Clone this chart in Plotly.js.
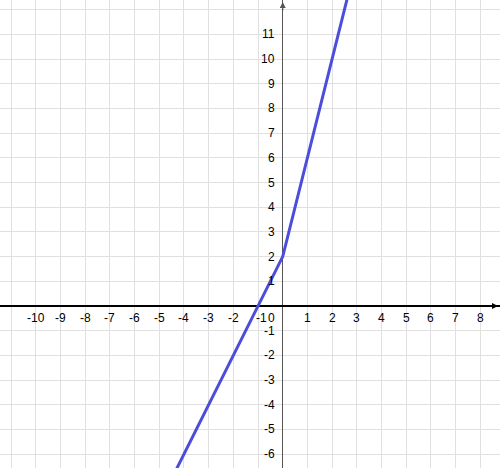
<!DOCTYPE html>
<html>
<head>
<meta charset="utf-8">
<script src="https://cdn.plot.ly/plotly-3.0.1.min.js"></script>
<style>
  html, body { margin: 0; padding: 0; background: #fff; }
  #graph { width: 500px; height: 468px; }
</style>
</head>
<body>
<div id="graph"></div>
<script>
// piecewise line: corner at (0, 2)
var lineX = [-5, 0, 3];
var lineY = [-8, 2, 14];

var xTickVals = [-10, -9, -8, -7, -6, -5, -4, -3, -2, -1, 1, 2, 3, 4, 5, 6, 7, 8];
var yTickVals = [-6, -5, -4, -3, -2, -1, 1, 2, 3, 4, 5, 6, 7, 8, 9, 10, 11];

var xRange = [-11.45, 8.8];
var yRange = [-6.56, 12.39];

var labelFont = { family: 'Liberation Sans, Arial, sans-serif', size: 12, color: '#000' };

var trace1 = {
    x: lineX,
    y: lineY,
    mode: 'lines',
    type: 'scatter',
    line: { color: '#4d4ddb', width: 3 },
    hoverinfo: 'none'
};

var annotationContent = [];
for (var i = 0; i < xTickVals.length; i++) {
    annotationContent.push({
        x: xTickVals[i], y: 0,
        text: String(xTickVals[i]),
        xanchor: 'center', yanchor: 'top',
        yshift: -3,
        xshift: xTickVals[i] == -1 ? 3 : 0,
        showarrow: false,
        font: labelFont
    });
}
for (var j = 0; j < yTickVals.length; j++) {
    annotationContent.push({
        x: 0, y: yTickVals[j],
        text: String(yTickVals[j]),
        xanchor: 'right', yanchor: 'middle',
        xshift: -6,
        showarrow: false,
        font: labelFont
    });
}
// origin label
annotationContent.push({
    x: 0, y: 0, text: '0',
    xanchor: 'right', yanchor: 'top',
    xshift: -6, yshift: -3,
    showarrow: false, font: labelFont
});
// axis arrows
annotationContent.push({
    x: xRange[1], y: 0, xref: 'x', yref: 'y',
    ax: -10, ay: 0, text: '', showarrow: true,
    arrowhead: 2, arrowsize: 1, arrowwidth: 1.2, arrowcolor: '#000', xshift: -2
});
annotationContent.push({
    x: 0, y: yRange[1], xref: 'x', yref: 'y',
    ax: 0, ay: 10, text: '', showarrow: true,
    arrowhead: 2, arrowsize: 1, arrowwidth: 1.2, arrowcolor: '#555', yshift: -2
});

var layout = {
    annotations: annotationContent,
    margin: { l: 0, r: 0, b: 0, t: 0, pad: 0 },
    width: 500,
    height: 468,
    paper_bgcolor: '#fff',
    plot_bgcolor: '#fff',
    xaxis: {
        range: xRange,
        autorange: false,
        tick0: 0,
        dtick: 1,
        showgrid: true,
        gridcolor: '#e0e0e0',
        gridwidth: 1,
        zeroline: true,
        zerolinecolor: '#555',
        zerolinewidth: 1.5,
        showline: false,
        showticklabels: false,
        ticks: '',
        fixedrange: true
    },
    yaxis: {
        range: yRange,
        autorange: false,
        tick0: 0,
        dtick: 1,
        showgrid: true,
        gridcolor: '#e0e0e0',
        gridwidth: 1,
        zeroline: true,
        zerolinecolor: '#000',
        zerolinewidth: 1.2,
        showline: false,
        showticklabels: false,
        ticks: '',
        fixedrange: true
    },
    showlegend: false
};

Plotly.newPlot('graph', [trace1], layout, { displayModeBar: false, staticPlot: true });
</script>
</body>
</html>
